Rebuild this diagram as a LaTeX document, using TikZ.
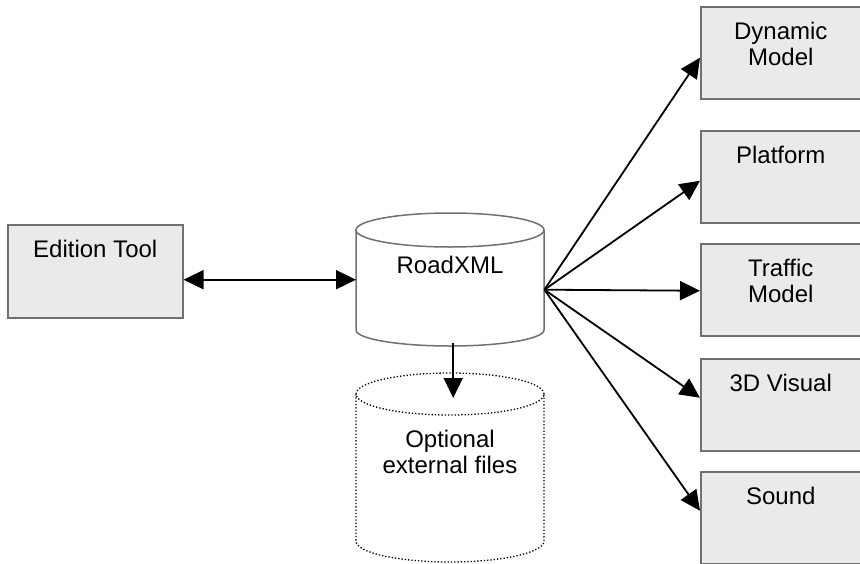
\documentclass[tikz,border=0pt]{standalone}
\usepackage{fontspec}
\setmainfont{Liberation Sans}
\usetikzlibrary{arrows.meta,calc}
\definecolor{boxfill}{HTML}{EAEAEA}
\definecolor{boxline}{HTML}{707070}
\begin{document}
\begin{tikzpicture}[x=1pt,y=-1pt,
  box/.style={draw=boxline, line width=1.5pt, fill=boxfill, minimum width=160pt, minimum height=92pt, inner sep=0pt, anchor=north west},
  hold/.style={inner sep=0pt, anchor=north west, minimum width=188pt},
  lbl/.style={anchor=base, align=center, font=\fontsize{24}{26.5}\selectfont, inner sep=0pt},
  cylline/.style={draw=boxline, line width=1.5pt},
  dotline/.style={draw=black, dotted, line width=1.3pt},
  arr/.style={line width=1.8pt, -{Triangle[length=20pt,width=19pt]}},
  darr/.style={line width=1.8pt, {Triangle[length=20pt,width=19pt]}-{Triangle[length=20pt,width=19pt]}}
  ]
\useasboundingbox (0,0) rectangle (860,563);

% Edition Tool
\node[box, minimum width=175pt, minimum height=93pt] (edit) at (7,224) {};
\node[lbl] (editlbl) at ([yshift=-33pt]edit.north) {Edition Tool};

% Right boxes
\node[box] (dyn) at (700,6) {};
\node[lbl] (dynlbl) at ([yshift=-59.5pt]dyn.north) {Dynamic\\Model};
\node[box] (plat) at (700,130) {};
\node[lbl] (platlbl) at ([yshift=-33pt]plat.north) {Platform};
\node[box] (traf) at (700,243) {};
\node[lbl] (traflbl) at ([yshift=-59.5pt]traf.north) {Traffic\\Model};
\node[box] (vis) at (700,358) {};
\node[lbl] (vislbl) at ([yshift=-33pt]vis.north) {3D Visual};
\node[box] (snd) at (700,471) {};
\node[lbl] (sndlbl) at ([yshift=-33pt]snd.north) {Sound};

% RoadXML cylinder
\node[hold, minimum height=133pt] (road) at (356,213) {};
\draw[cylline, fill=white] (356,230) -- (356,330)
  arc[start angle=180, end angle=360, x radius=94pt, y radius=16pt] -- (544,230);
\draw[cylline] (450,230) ellipse [x radius=94pt, y radius=17pt];
\node[lbl] (roadlbl) at (450,273) {RoadXML};

% Optional external files cylinder
\node[hold, minimum height=189pt] (opt) at (356,373) {};
\draw[dotline] (356,394) -- (356,541)
  arc[start angle=180, end angle=360, x radius=94pt, y radius=21pt] -- (544,394);
\draw[dotline] (450,394) ellipse [x radius=94pt, y radius=21pt];
\node[lbl] (optlbl) at (450,473.5) {Optional\\external files};

% Connectors
\draw[darr] (edit.east |- road.west) -- (road.west);
\coordinate (fan) at ([yshift=-10pt]road.east);
\draw[arr] (fan) -- ([yshift=-5pt]dyn.west);
\draw[arr] (fan) -- ([yshift=-4pt]plat.west);
\draw[arr] (fan) -- ([yshift=-1pt]traf.west);
\draw[arr] (fan) -- ([yshift=7pt]vis.west);
\draw[arr] (fan) -- ([yshift=7pt]snd.west);
\draw[arr] ([xshift=3pt,yshift=3pt]road.south) -- ([xshift=3pt,yshift=-25pt]opt.north);
\end{tikzpicture}
\end{document}
